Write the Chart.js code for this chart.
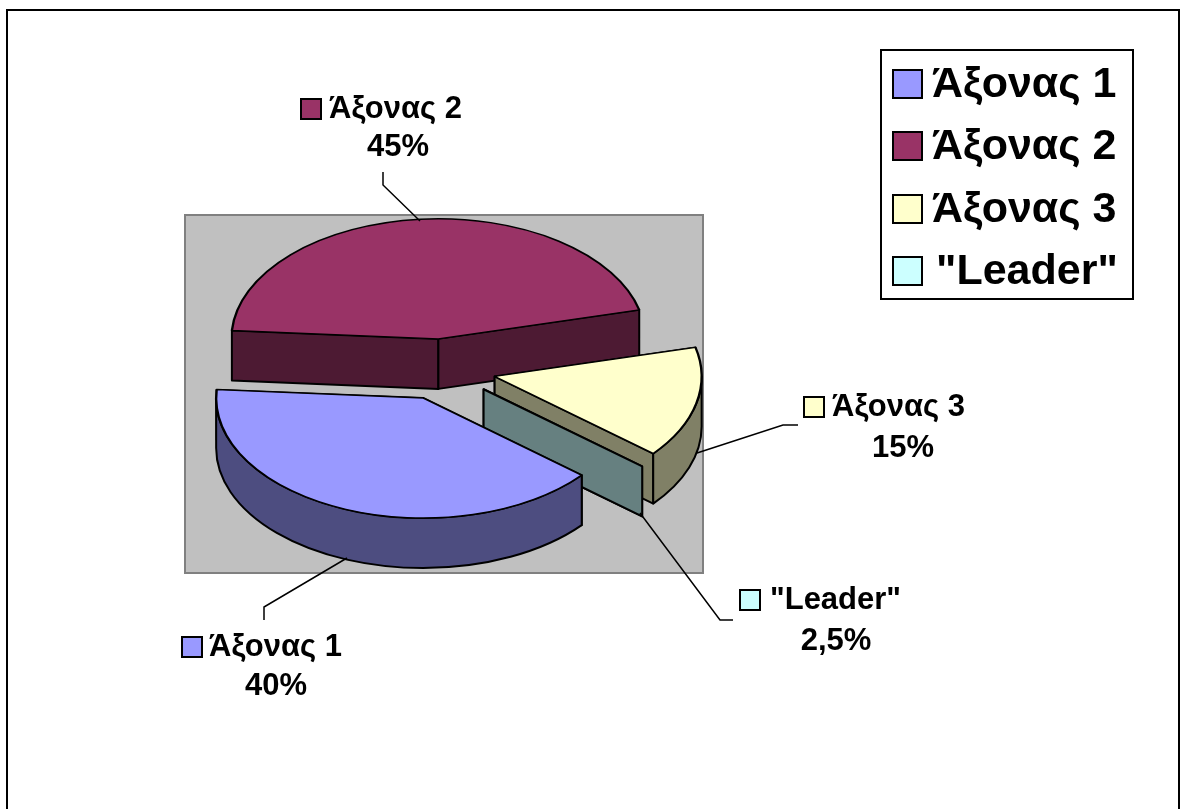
<!DOCTYPE html>
<html>
<head>
<meta charset="utf-8">
<title>Pie</title>
<script src="https://cdn.jsdelivr.net/npm/chart.js@4"></script>
<style>
    html, body { margin: 0; padding: 0; background: #fff; overflow: hidden; }
    canvas { display: block; }
</style>
</head>
<body>
<canvas id="pieChart" width="1180" height="809"></canvas>
<script>
const labels = ["Άξονας 1", "Άξονας 2", "Άξονας 3", "\"Leader\""];
// printed on the labels
const percents = [40, 45, 15, 2.5];
// slice widths as the picture draws them: 40/45/15 fill the circle, Leader is only a cut face
const sliceValues = [40, 45, 15, 0];
const topColors = ["#9999FF", "#993366", "#FFFFCC", "#CCFFFF"];
const sideColors = ["#4D4D80", "#4D1A33", "#808066", "#668080"];

// 3D look
const pieRadius = 207;
const sliceOffset = 212; // Chart.js moves a slice by offset / 4
const squash = 0.58;
const depth = 50;
const shiftX = -1;
const shiftY = -24.5;
const wallOrder = [1, 2, 3, 0];

// callouts: marker x/y, text x/y, percent x/y, leader line
const callouts = [
    { mx: 182, my: 637, tx: 209, ty: 647, px: 276, py: 686, line: [[347, 558], [264, 607], [264, 620]] },
    { mx: 301, my: 99, tx: 329, ty: 109, px: 398, py: 147, line: [[420, 221], [383, 185], [383, 172]] },
    { mx: 804, my: 397, tx: 832, ty: 407, px: 903, py: 448, line: [[697, 453], [783, 425], [798, 425]] },
    { mx: 740, my: 590, tx: 770, ty: 600, px: 836, py: 641, line: [[640, 513], [720, 620], [733, 620]] }
];
const legendRows = [85, 147, 210, 272];

function drawWalls(ctx, arc, index) {
    const { x, y, cutStart, cutEnd } = arc;
    const mid = (cutStart + cutEnd) / 2;
    const off = sliceOffset / 4;
    const px = x + shiftX + Math.cos(mid) * off;
    const py = y + shiftY + Math.sin(mid) * off * squash;

    ctx.fillStyle = sideColors[index];
    ctx.strokeStyle = "#000";
    ctx.lineWidth = 2;
    ctx.lineJoin = "round";

    // cut faces
    [cutStart, cutEnd].forEach(function (a) {
        const ex = px + Math.cos(a) * pieRadius;
        const ey = py + Math.sin(a) * pieRadius * squash;
        ctx.beginPath();
        ctx.moveTo(px, py);
        ctx.lineTo(ex, ey);
        ctx.lineTo(ex, ey + depth);
        ctx.lineTo(px, py + depth);
        ctx.closePath();
        ctx.fill();
        ctx.stroke();
    });

    // outer face, only the front half of the ellipse shows
    for (let k = 0; k < 2; k++) {
        const lo = Math.max(cutStart, k * 2 * Math.PI);
        const hi = Math.min(cutEnd, k * 2 * Math.PI + Math.PI);
        if (hi <= lo) continue;
        ctx.beginPath();
        ctx.ellipse(px, py, pieRadius, pieRadius * squash, 0, lo, hi);
        ctx.ellipse(px, py + depth, pieRadius, pieRadius * squash, 0, hi, lo, true);
        ctx.closePath();
        ctx.fill();
        ctx.stroke();
    }
}

const pie3d = {
    id: "pie3d",
    afterDatasetsUpdate(chart) {
        // ArcElement.draw grows exploded slices by offset * fix and narrows them a little, take that back out
        chart.getDatasetMeta(0).data.forEach(function (arc) {
            const fix = 1 - Math.sin(Math.min(Math.PI, arc.circumference || 0));
            const grow = (sliceOffset / 4) * fix;
            const narrow = grow / (2 * Math.PI * pieRadius);
            arc.cutStart = arc.startAngle;
            arc.cutEnd = arc.endAngle;
            arc.outerRadius = pieRadius - grow;
            arc.startAngle -= narrow;
            arc.endAngle += narrow;
        });
    },
    beforeDraw(chart) {
        const ctx = chart.ctx;
        const a = chart.chartArea;
        ctx.save();
        // outer frame, the bottom runs off the picture
        ctx.strokeStyle = "#000";
        ctx.lineWidth = 2;
        ctx.beginPath();
        ctx.moveTo(7, 809);
        ctx.lineTo(7, 10);
        ctx.lineTo(1179, 10);
        ctx.lineTo(1179, 809);
        ctx.stroke();
        // plot area
        ctx.fillStyle = "#C0C0C0";
        ctx.strokeStyle = "#808080";
        ctx.fillRect(a.left, a.top, a.width, a.height);
        ctx.strokeRect(a.left, a.top, a.width, a.height);
        ctx.restore();
    },
    beforeDatasetsDraw(chart) {
        const ctx = chart.ctx;
        const arcs = chart.getDatasetMeta(0).data;
        ctx.save();
        wallOrder.forEach(function (i) {
            drawWalls(ctx, arcs[i], i);
        });
        ctx.restore();
        // squash the library's arcs into the top ellipse
        const cx = arcs[0].x;
        const cy = arcs[0].y;
        ctx.save();
        ctx.translate(cx + shiftX, cy + shiftY);
        ctx.scale(1, squash);
        ctx.translate(-cx, -cy);
    },
    afterDatasetsDraw(chart) {
        const ctx = chart.ctx;
        ctx.restore();
        ctx.save();

        // leader lines and callouts
        ctx.textBaseline = "middle";
        callouts.forEach(function (c, i) {
            ctx.strokeStyle = "#000";
            ctx.lineWidth = 1.5;
            ctx.beginPath();
            c.line.forEach(function (p, n) {
                if (n === 0) ctx.moveTo(p[0], p[1]);
                else ctx.lineTo(p[0], p[1]);
            });
            ctx.stroke();

            ctx.fillStyle = topColors[i];
            ctx.lineWidth = 2;
            ctx.fillRect(c.mx, c.my, 20, 20);
            ctx.strokeRect(c.mx, c.my, 20, 20);

            ctx.fillStyle = "#000";
            ctx.font = "bold 31px 'Liberation Sans'";
            ctx.textAlign = "left";
            ctx.fillText(labels[i], c.tx, c.ty);
            ctx.textAlign = "center";
            ctx.fillText(String(percents[i]).replace(".", ",") + "%", c.px, c.py);
        });

        // legend box
        ctx.strokeStyle = "#000";
        ctx.lineWidth = 2;
        ctx.strokeRect(881, 50, 252, 249);
        ctx.font = "bold 43px 'Liberation Sans'";
        ctx.textAlign = "left";
        legendRows.forEach(function (y, i) {
            ctx.fillStyle = topColors[i];
            ctx.fillRect(893, y - 15, 29, 28);
            ctx.strokeRect(893, y - 15, 29, 28);
            ctx.fillStyle = "#000";
            ctx.fillText(labels[i], i === 3 ? 936 : 932, y);
        });
        ctx.restore();
    }
};

document.addEventListener("DOMContentLoaded", function () {
    const pieCanvas = document.getElementById("pieChart");
    new Chart(pieCanvas, {
        type: "pie",
        data: {
            labels: labels,
            datasets: [{
                data: sliceValues,
                backgroundColor: topColors,
                borderColor: "#000",
                borderWidth: 2.4,
                offset: sliceOffset,
                clip: false
            }]
        },
        options: {
            responsive: false,
            animation: false,
            rotation: 130,
            radius: pieRadius,
            layout: { padding: { left: 185, right: 477, top: 215, bottom: 236 } },
            plugins: {
                legend: { display: false },
                tooltip: { enabled: false }
            }
        },
        plugins: [pie3d]
    });
});
</script>
</body>
</html>
